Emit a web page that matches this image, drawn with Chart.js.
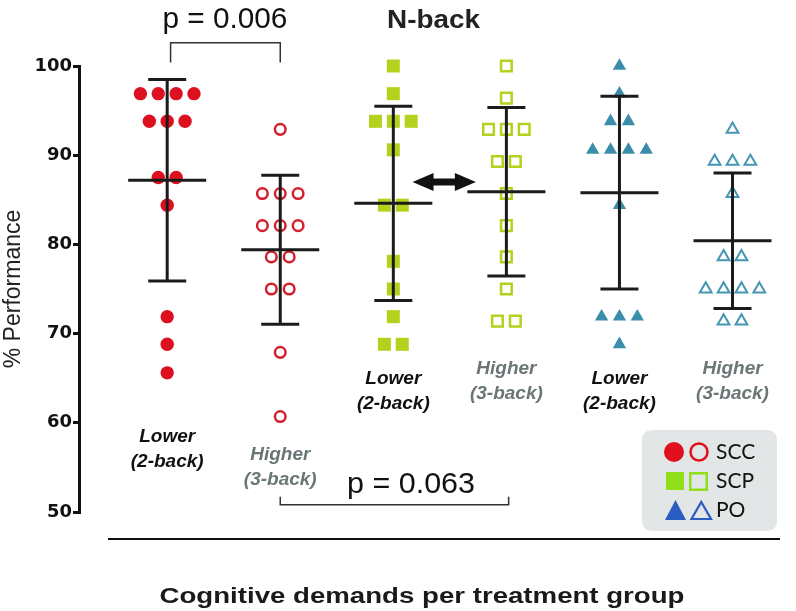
<!DOCTYPE html>
<html><head><meta charset="utf-8">
<script src="https://cdn.jsdelivr.net/npm/chart.js@4/dist/chart.umd.min.js"></script>
<style>html,body{margin:0;padding:0;background:#fff;}canvas{display:block;}</style>
</head><body>
<canvas id="c" width="796" height="611"></canvas>
<script>
// ---------- data ----------
const categories = ['Lower (2-back)', 'Higher (3-back)', 'Lower (2-back)', 'Higher (3-back)', 'Lower (2-back)', 'Higher (3-back)'];
const treatments = ['SCC', 'SCC', 'SCP', 'SCP', 'PO', 'PO'];
const sccLower  = [96.9, 96.9, 96.9, 96.9, 93.8, 93.8, 93.8, 87.5, 87.5, 84.4, 71.9, 68.8, 65.6];
const sccHigher = [92.9, 85.7, 85.7, 85.7, 82.1, 82.1, 82.1, 78.6, 78.6, 75.0, 75.0, 67.9, 60.7];
const scpLower  = [100, 96.9, 93.8, 93.8, 93.8, 90.6, 84.4, 84.4, 78.1, 75.0, 71.9, 68.8, 68.8];
const scpHigher = [100, 96.4, 92.9, 92.9, 92.9, 89.3, 89.3, 85.7, 82.1, 78.6, 75.0, 71.4, 71.4];
const poLower   = [100, 96.9, 93.8, 93.8, 90.6, 90.6, 90.6, 90.6, 84.4, 71.9, 71.9, 71.9, 68.8];
const poHigher  = [92.9, 89.3, 89.3, 89.3, 85.7, 78.6, 78.6, 75.0, 75.0, 75.0, 75.0, 71.4, 71.4];
const groupMeans = [87.2, 79.4, 84.6, 85.9, 85.8, 80.4];
const groupSD    = [11.3, 8.35, 10.9, 9.45, 10.8, 7.6];
const yTicks = [50, 60, 70, 80, 90, 100];
const pValues = ['p = 0.006', 'p = 0.063'];
const legendLabels = ['SCC', 'SCP', 'PO'];
const chartTitle = 'N-back';
const yTitle = '% Performance';
const xTitle = 'Cognitive demands per treatment group';

const groupValues = [sccLower, sccHigher, scpLower, scpHigher, poLower, poHigher];

// ---------- styling ----------
const RED = '#dd1020', GREEN = '#b6d01e', TEAL = '#3b8eaa';
const markerStyles = [
  {pointStyle: 'circle', pointRadius: 6.7, backgroundColor: RED, borderColor: RED, borderWidth: 0},
  {pointStyle: 'circle', pointRadius: 5.3, backgroundColor: 'rgba(255,255,255,0)', borderColor: '#d41f2d', borderWidth: 2.5},
  {pointStyle: 'rect', pointRadius: 9.2, backgroundColor: GREEN, borderColor: GREEN, borderWidth: 0},
  {pointStyle: 'rect', pointRadius: 7.5, backgroundColor: 'rgba(255,255,255,0)', borderColor: GREEN, borderWidth: 2.5},
  {pointStyle: 'triangle', pointRadius: 7.7, backgroundColor: TEAL, borderColor: TEAL, borderWidth: 0},
  {pointStyle: 'triangle', pointRadius: 6.8, backgroundColor: 'rgba(255,255,255,0)', borderColor: '#4596b2', borderWidth: 2}
];
const JITTER = 0.158; // horizontal spread (x units) between tied points

function spread(values, center) {
  const counts = {}, seen = {};
  values.forEach(v => { counts[v] = (counts[v] || 0) + 1; });
  return values.map(v => {
    const k = seen[v] || 0; seen[v] = k + 1;
    return {x: center + (k - (counts[v] - 1) / 2) * JITTER, y: v};
  });
}

const datasets = groupValues.map((vals, i) => Object.assign({
  label: treatments[i] + ' ' + categories[i],
  data: spread(vals, i + 1),
  clip: false,
  pointHoverRadius: 0
}, markerStyles[i]));

function drawText(ctx, text, x, y, o) {
  ctx.save();
  ctx.font = o.font;
  ctx.fillStyle = o.color || '#111';
  ctx.textBaseline = o.baseline || 'alphabetic';
  ctx.textAlign = o.align || 'center';
  const w = ctx.measureText(text).width;
  const sx = o.width ? o.width / w : 1;
  ctx.translate(x, y);
  ctx.scale(sx, 1);
  ctx.fillText(text, 0, 0);
  ctx.restore();
}

const labelTop = [437, 455, 379, 369, 379, 369];

const annotations = {
  id: 'annotations',
  afterDatasetsDraw(chart) {
    const {ctx, scales: {x, y}} = chart;
    ctx.save();
    // mean ± SD
    ctx.strokeStyle = '#1b1b1b';
    ctx.lineWidth = 3;
    groupMeans.forEach((m, i) => {
      const cx = x.getPixelForValue(i + 1);
      const hm = x.getPixelForValue(i + 1 + 0.345) - cx;
      const hc = x.getPixelForValue(i + 1 + 0.168) - cx;
      const yM = y.getPixelForValue(m);
      const yU = y.getPixelForValue(m + groupSD[i]);
      const yL = y.getPixelForValue(m - groupSD[i]);
      ctx.beginPath();
      ctx.moveTo(cx, yU); ctx.lineTo(cx, yL);
      ctx.moveTo(cx - hc, yU); ctx.lineTo(cx + hc, yU);
      ctx.moveTo(cx - hc, yL); ctx.lineTo(cx + hc, yL);
      ctx.moveTo(cx - hm, yM); ctx.lineTo(cx + hm, yM);
      ctx.stroke();
    });

    // category labels
    categories.forEach((c, i) => {
      const parts = c.split(' ');
      const cx = x.getPixelForValue(i + 1);
      const col = i % 2 === 0 ? '#111111' : '#6b7677';
      drawText(ctx, parts[0], cx, labelTop[i], {font: 'italic bold 19px "Liberation Sans"', color: col, baseline: 'middle'});
      drawText(ctx, parts[1], cx, labelTop[i] + 25, {font: 'italic bold 19px "Liberation Sans"', color: col, baseline: 'middle'});
    });

    // p-value brackets
    ctx.strokeStyle = '#333';
    ctx.lineWidth = 1.5;
    const b1l = x.getPixelForValue(1.03), b1r = x.getPixelForValue(2.0);
    const b1t = y.getPixelForValue(102.6), b1b = y.getPixelForValue(100.4);
    ctx.beginPath();
    ctx.moveTo(b1l, b1b); ctx.lineTo(b1l, b1t); ctx.lineTo(b1r, b1t); ctx.lineTo(b1r, b1b);
    ctx.stroke();
    drawText(ctx, pValues[0], (b1l + b1r) / 2 - 0.5, 28, {font: '30px "Liberation Sans"', color: '#111', width: 125});

    const b2l = x.getPixelForValue(2.0), b2r = x.getPixelForValue(4.02);
    const b2b = y.getPixelForValue(50.8), b2t = y.getPixelForValue(51.7);
    ctx.beginPath();
    ctx.moveTo(b2l, b2t); ctx.lineTo(b2l, b2b); ctx.lineTo(b2r, b2b); ctx.lineTo(b2r, b2t);
    ctx.stroke();
    drawText(ctx, pValues[1], 411, 493, {font: '30px "Liberation Sans"', color: '#111', width: 128});

    // double arrow
    const ax1 = x.getPixelForValue(3.17), ax2 = x.getPixelForValue(3.73), ay = y.getPixelForValue(87.0);
    const hl = 21, hh = 9, st = 3.5;
    ctx.fillStyle = '#111';
    ctx.beginPath();
    ctx.moveTo(ax1, ay);
    ctx.lineTo(ax1 + hl, ay - hh); ctx.lineTo(ax1 + hl, ay - st);
    ctx.lineTo(ax2 - hl, ay - st); ctx.lineTo(ax2 - hl, ay - hh);
    ctx.lineTo(ax2, ay);
    ctx.lineTo(ax2 - hl, ay + hh); ctx.lineTo(ax2 - hl, ay + st);
    ctx.lineTo(ax1 + hl, ay + st); ctx.lineTo(ax1 + hl, ay + hh);
    ctx.closePath();
    ctx.fill();

    // title
    drawText(ctx, chartTitle, 387, 28, {font: 'bold 25px "Liberation Sans"', color: '#222', align: 'left', width: 93});

    // bottom rule and x title
    ctx.strokeStyle = '#111';
    ctx.lineWidth = 2;
    ctx.beginPath(); ctx.moveTo(108, 539); ctx.lineTo(780, 539); ctx.stroke();
    drawText(ctx, xTitle, 422, 603, {font: 'bold 21.5px "Liberation Sans"', color: '#1a1a1a', width: 525});

    // legend
    const bx = 642, by = 430, bw = 135, bh = 101, r = 11;
    ctx.fillStyle = '#e3e6e6';
    ctx.beginPath();
    ctx.moveTo(bx + r, by); ctx.lineTo(bx + bw - r, by); ctx.quadraticCurveTo(bx + bw, by, bx + bw, by + r);
    ctx.lineTo(bx + bw, by + bh - r); ctx.quadraticCurveTo(bx + bw, by + bh, bx + bw - r, by + bh);
    ctx.lineTo(bx + r, by + bh); ctx.quadraticCurveTo(bx, by + bh, bx, by + bh - r);
    ctx.lineTo(bx, by + r); ctx.quadraticCurveTo(bx, by, bx + r, by);
    ctx.closePath(); ctx.fill();

    const LR = '#e0101c', LG = '#8fe01a', LB = '#2b5cc2';
    // SCC
    ctx.fillStyle = LR;
    ctx.beginPath(); ctx.arc(674, 452, 10, 0, Math.PI * 2); ctx.fill();
    ctx.strokeStyle = LR; ctx.lineWidth = 2.5;
    ctx.beginPath(); ctx.arc(699, 452, 8.5, 0, Math.PI * 2); ctx.stroke();
    // SCP
    ctx.fillStyle = LG;
    ctx.fillRect(666, 472, 18, 18);
    ctx.strokeStyle = LG;
    ctx.strokeRect(690.25, 473.25, 16.5, 16.5);
    // PO
    ctx.fillStyle = LB;
    ctx.beginPath(); ctx.moveTo(665, 520); ctx.lineTo(686, 520); ctx.lineTo(675.5, 500); ctx.closePath(); ctx.fill();
    ctx.strokeStyle = LB; ctx.lineWidth = 2.2;
    ctx.beginPath(); ctx.moveTo(691.5, 519); ctx.lineTo(711, 519); ctx.lineTo(701.25, 502); ctx.closePath(); ctx.stroke();

    [452, 481, 510].forEach((ty, i) => {
      drawText(ctx, legendLabels[i], 716, ty, {font: '21px Lato', color: '#111', align: 'left', baseline: 'middle'});
    });
    ctx.restore();
  }
};

new Chart(document.getElementById('c'), {
  type: 'scatter',
  data: {datasets},
  options: {
    responsive: false,
    animation: false,
    devicePixelRatio: 1,
    events: [],
    layout: {padding: {left: 0, top: 66, right: 16, bottom: 99}},
    plugins: {legend: {display: false}, tooltip: {enabled: false}},
    scales: {
      x: {type: 'linear', min: 0.22, max: 6.42, display: false},
      y: {
        type: 'linear', min: 50, max: 100,
        afterBuildTicks: s => { s.ticks = yTicks.map(v => ({value: v})); },
        afterFit: s => { s.width = 79; },
        border: {display: true, color: '#111', width: 3},
        grid: {drawOnChartArea: false, drawTicks: true, tickLength: 6, color: '#111', lineWidth: 3},
        ticks: {color: '#111', padding: 1, font: {family: 'DejaVu Sans', weight: 'bold', size: 18}},
        title: {display: true, text: yTitle, color: '#222', padding: {top: 0, bottom: 0}, font: {family: 'Liberation Sans', size: 23}}
      }
    }
  },
  plugins: [annotations]
});
</script>
</body></html>
